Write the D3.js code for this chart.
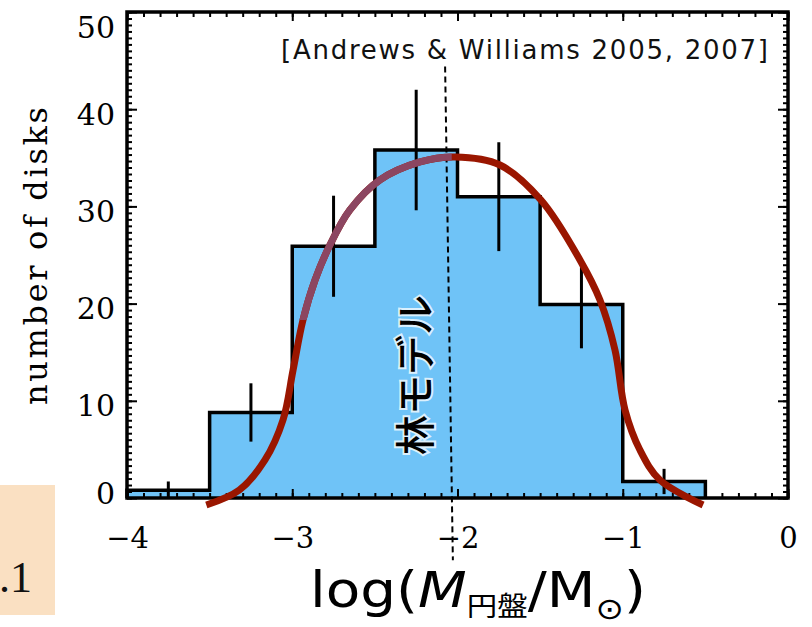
<!DOCTYPE html>
<html><head><meta charset="utf-8">
<script src="https://cdn.jsdelivr.net/npm/d3@7"></script>
<style>html,body{margin:0;padding:0;background:#fff;}svg{display:block;}</style>
</head><body><div id="chart"></div>
<script>
// ---- data ----
const binStarts = [-4, -3.5, -3, -2.5, -2, -1.5, -1];
const binEnds   = [-3.5, -3, -2.5, -2, -1.5, -1, -0.5];
const counts    = [0.8, 8.8, 25.9, 35.8, 31.0, 19.9, 1.7];
const errors    = [0.9, 3.0, 5.2, 6.2, 5.6, 4.5, 1.3];
const curveX = [-3.52, -3.32, -3.165, -3.056, -2.995, -2.935, -2.862, -2.772, -2.651, -2.469, -2.227, -2.015, -1.743, -1.495, -1.259, -1.138, -1.047, -0.986, -0.896, -0.775, -0.514];
const curveY = [-0.72, 0.82, 3.91, 8.02, 13.17, 18.31, 22.43, 26.03, 29.63, 32.72, 34.57, 35.08, 34.26, 30.66, 24.49, 20.37, 15.23, 9.05, 4.94, 1.85, -0.72];
const xTicks = [-4, -3, -2, -1, 0];
const yTicks = [0, 10, 20, 30, 40, 50];
const refLineX = [-2.075, -2.028];
const refLineY = [44.4, -6.4];
const annotation = "[Andrews & Williams 2005, 2007]";
const modelLabel = "林モデル";
const yLabel = "number of disks";

const W = 812, H = 627;
const svg = d3.select("#chart").append("svg").attr("width", W).attr("height", H);
svg.append("rect").attr("width", W).attr("height", H).attr("fill", "#fff");

const x = d3.scaleLinear().domain([-4, 0]).range([127, 788]);
const y = d3.scaleLinear().domain([0, 50]).range([498, 12]);

// peach box (bottom-left)
svg.append("rect").attr("x", 0).attr("y", 485).attr("width", 55).attr("height", 130).attr("fill", "#fae0c2");
svg.append("text").attr("x", -1).attr("y", 592)
  .attr("font-family", "Liberation Serif, serif").attr("font-size", 44).attr("fill", "#111").text(".1");

// histogram fill
const pts = [];
binStarts.forEach((s, i) => { pts.push([s, counts[i]]); pts.push([binEnds[i], counts[i]]); });
const area = d3.area().x(d => x(d[0])).y0(y(0)).y1(d => y(d[1]));
svg.append("path").attr("d", area(pts)).attr("fill", "#6fc3f7");

// axes: ticks inward
const minorX = d3.range(-4, 0.001, 0.1);
const minorY = d3.range(0, 50.001, 10 / 15);
function styleAxis(g) { g.select(".domain").remove(); g.selectAll("line").attr("stroke", "#000").attr("stroke-width", 2); }

const gb = svg.append("g").attr("transform", `translate(0,${y(0)})`)
  .call(d3.axisBottom(x).tickValues(xTicks).tickFormat(d3.format("d")).tickSizeInner(-9).tickSizeOuter(0).tickPadding(0));
styleAxis(gb);
gb.selectAll("text").attr("y", 50).attr("dy", 0).attr("font-family", "DejaVu Serif, serif").attr("font-size", 29).attr("fill", "#000");
svg.append("g").attr("transform", `translate(0,${y(0)})`)
  .call(d3.axisBottom(x).tickValues(minorX).tickSizeInner(-5).tickSizeOuter(0).tickFormat("")).call(styleAxis);
svg.append("g").attr("transform", `translate(0,${y(50)})`)
  .call(d3.axisTop(x).tickValues(xTicks).tickSizeInner(-9).tickSizeOuter(0).tickFormat("")).call(styleAxis);
svg.append("g").attr("transform", `translate(0,${y(50)})`)
  .call(d3.axisTop(x).tickValues(minorX).tickSizeInner(-5).tickSizeOuter(0).tickFormat("")).call(styleAxis);

const gl = svg.append("g").attr("transform", `translate(${x(-4)},0)`)
  .call(d3.axisLeft(y).tickValues(yTicks).tickSizeInner(-10).tickSizeOuter(0).tickPadding(12));
styleAxis(gl);
gl.selectAll("text").attr("dy", 0).attr("y", d => d === 50 ? 25 : (d === 0 ? 5 : 15))
  .attr("font-family", "DejaVu Serif, serif").attr("font-size", 30).attr("fill", "#000");
svg.append("g").attr("transform", `translate(${x(-4)},0)`)
  .call(d3.axisLeft(y).tickValues(minorY).tickSizeInner(-5).tickSizeOuter(0).tickFormat("")).call(styleAxis);
svg.append("g").attr("transform", `translate(${x(0)},0)`)
  .call(d3.axisRight(y).tickValues(yTicks).tickSizeInner(-10).tickSizeOuter(0).tickFormat("")).call(styleAxis);
svg.append("g").attr("transform", `translate(${x(0)},0)`)
  .call(d3.axisRight(y).tickValues(minorY).tickSizeInner(-5).tickSizeOuter(0).tickFormat("")).call(styleAxis);

// frame
svg.append("rect").attr("x", x(-4)).attr("y", y(50)).attr("width", x(0) - x(-4)).attr("height", y(0) - y(50))
  .attr("fill", "none").attr("stroke", "#000").attr("stroke-width", 3.5);

// histogram outline
const outline = [[binStarts[0], 0]].concat(pts).concat([[binEnds[binEnds.length - 1], 0]]);
svg.append("path").attr("d", d3.line().x(d => x(d[0])).y(d => y(d[1]))(outline))
  .attr("fill", "none").attr("stroke", "#000").attr("stroke-width", 3.5).attr("stroke-linejoin", "miter");

// error bars
svg.append("g").selectAll("line").data(counts).join("line")
  .attr("x1", (d, i) => x((binStarts[i] + binEnds[i]) / 2)).attr("x2", (d, i) => x((binStarts[i] + binEnds[i]) / 2))
  .attr("y1", (d, i) => y(Math.max(0, d - errors[i]))).attr("y2", (d, i) => y(d + errors[i]))
  .attr("stroke", "#000").attr("stroke-width", 3);

// annotation
svg.append("text").attr("x", 281).attr("y", 59).attr("textLength", 487).attr("lengthAdjust", "spacing")
  .attr("font-family", "DejaVu Sans, Verdana, sans-serif").attr("font-size", 26).attr("fill", "#111").text(annotation);

// dashed reference line
svg.append("line").attr("x1", x(refLineX[0])).attr("y1", y(refLineY[0])).attr("x2", x(refLineX[1])).attr("y2", y(refLineY[1]))
  .attr("stroke", "#000").attr("stroke-width", 2).attr("stroke-dasharray", "6,4");

// vertical model label
svg.append("text").attr("transform", "translate(430,375) rotate(-90)").attr("text-anchor", "middle")
  .attr("font-family", "Noto Sans CJK JP, sans-serif").attr("font-size", 40).attr("font-weight", 500)
  .attr("fill", "#000").attr("stroke", "rgba(255,255,255,0.75)").attr("stroke-width", 4).attr("paint-order", "stroke")
  .text(modelLabel);

// model curve
const curveData = curveX.map((v, i) => [v, curveY[i]]);
const line = d3.line().x(d => x(d[0])).y(d => y(d[1])).curve(d3.curveCatmullRom.alpha(0.5));
svg.append("path").attr("d", line(curveData)).attr("fill", "none").attr("stroke", "#9a1600")
  .attr("stroke-width", 7).attr("stroke-linecap", "butt");
svg.append("clipPath").attr("id", "mv").append("rect").attr("x", 0).attr("y", 0)
  .attr("width", x(-2.035)).attr("height", y(18.3));
svg.append("path").attr("d", line(curveData)).attr("fill", "none").attr("stroke", "#8c4661")
  .attr("stroke-width", 7).attr("clip-path", "url(#mv)");

// y label
svg.append("text").attr("transform", `translate(47,256) rotate(-90)`).attr("text-anchor", "middle")
  .attr("textLength", 298).attr("lengthAdjust", "spacing")
  .attr("font-family", "DejaVu Serif, serif").attr("font-size", 32).attr("fill", "#000").text(yLabel);

// x label
const xl = svg.append("text").attr("x", 310).attr("y", 607).attr("textLength", 336).attr("lengthAdjust", "spacingAndGlyphs")
  .attr("font-family", "DejaVu Sans, sans-serif").attr("font-size", 50).attr("fill", "#000");
xl.append("tspan").text("log(");
xl.append("tspan").attr("font-style", "italic").text("M");
xl.append("tspan").attr("font-family", "Noto Sans CJK JP, sans-serif").attr("font-size", 27).attr("dy", 9).text("円盤");
xl.append("tspan").attr("dy", -9).text("/M");
xl.append("tspan").attr("font-size", 30).attr("dy", 12).text("⊙");
xl.append("tspan").attr("dy", -12).text(")");
</script></body></html>
